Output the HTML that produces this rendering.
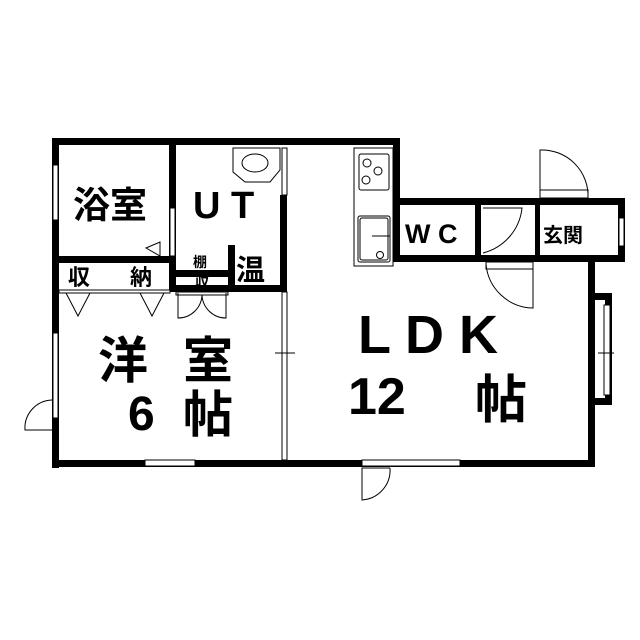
<!DOCTYPE html>
<html><head><meta charset="utf-8"><style>
html,body{margin:0;padding:0;background:#fff;}
svg{display:block;}
text{font-family:"Liberation Sans","Noto Sans CJK JP",sans-serif;fill:#000;font-weight:bold;}
</style></head><body>
<svg width="640" height="640" viewBox="0 0 640 640" xmlns="http://www.w3.org/2000/svg">
<g fill="#000">
<rect x="52" y="138" width="348" height="7"/>
<rect x="52" y="138" width="7" height="330"/>
<rect x="52" y="460" width="543" height="7"/>
<rect x="393" y="138" width="7" height="124"/>
<rect x="393" y="198" width="232" height="7"/>
<rect x="618" y="198" width="7" height="64"/>
<rect x="393" y="255" width="232" height="7"/>
<rect x="588" y="255" width="7" height="212"/>
<rect x="588" y="293" width="24" height="7"/>
<rect x="605" y="293" width="7" height="112"/>
<rect x="588" y="398" width="24" height="7"/>
<rect x="475" y="205" width="6" height="50"/>
<rect x="535" y="205" width="5" height="50"/>
<rect x="169" y="138" width="7" height="154"/>
<rect x="52" y="256" width="124" height="7"/>
<rect x="280" y="195" width="7" height="97"/>
<rect x="228" y="245" width="7" height="47"/>
<rect x="170" y="285" width="117" height="7"/>
<rect x="176" y="270" width="55" height="7"/>
</g>
<g fill="#fff" stroke="#000" stroke-width="1">
<rect x="53" y="165" width="5" height="55"/>
<rect x="53" y="333" width="5" height="85"/>
<rect x="145" y="460" width="50" height="6"/>
<rect x="362" y="460" width="98" height="6"/>
<rect x="604" y="305" width="6" height="90"/>
<rect x="619" y="218" width="5" height="28"/>
<rect x="170" y="208" width="5" height="48"/>
<rect x="282" y="148" width="5" height="47"/>
<rect x="282" y="292" width="5" height="168"/>
<rect x="354" y="148" width="39" height="118"/>
<rect x="359" y="154" width="30" height="36" rx="2"/>
<circle cx="367" cy="163" r="4"/><circle cx="378" cy="171" r="4"/><circle cx="366" cy="180" r="4"/>
<rect x="358" y="216" width="32" height="46" rx="2"/>
<rect x="360" y="218" width="28" height="42" rx="2"/>
<circle cx="380" cy="255" r="3.5"/>
<path d="M233 148 H280 V170 L270 182 H245 L233 172 Z"/>
<ellipse cx="255" cy="163" rx="13" ry="9"/>
<rect x="59" y="290" width="111" height="3"/>
<rect x="176" y="292" width="52" height="3"/>
</g>
<g fill="none" stroke="#000" stroke-width="1">
<line x1="372" y1="236" x2="390" y2="236"/>
<path d="M146 248 L160 242 V256 Z"/>
<path d="M66 293 L78 316 L90 293 M140 293 L152 316 L164 293"/>
<path d="M178 293 V318 A24 24 0 0 0 202 295 M226 293 V318 A24 24 0 0 1 202 295"/>
<path d="M52 400 A28 28 0 0 0 25 430 H52"/>
<path d="M390 468 H362 V500 A30 30 0 0 0 390 468"/>
<path d="M540 198 V150 A46 46 0 0 1 588 198"/>
<rect x="540" y="190" width="48" height="8"/>
<path d="M483 253 A52 52 0 0 0 522 208 H483"/>
<path d="M533 262 V308 A48 48 0 0 1 486 264"/>
<rect x="486" y="262" width="47" height="7"/>
<line x1="275" y1="353" x2="295" y2="353"/>
<line x1="598" y1="353" x2="614" y2="353"/>
</g>
<text x="73" y="218" font-size="37">浴室</text>
<text x="193" y="218" font-size="38" font-weight="normal">U T</text>
<text x="68" y="285" font-size="22">収</text>
<text x="130" y="285" font-size="22">納</text>
<text x="193" y="267" font-size="14" font-weight="normal">棚</text>
<text x="195" y="288" font-size="14" fill="#555" font-weight="normal">収</text>
<text x="236" y="280" font-size="29">温</text>
<text x="405" y="243" font-size="27">W C</text>
<text x="543" y="242" font-size="20">玄関</text>
<text x="358" y="353" font-size="54">L D K</text>
<text x="348" y="414" font-size="52">12</text>
<text x="475" y="418" font-size="52">帖</text>
<text x="98" y="378" font-size="50">洋</text>
<text x="183" y="378" font-size="50">室</text>
<text x="128" y="430" font-size="48">6</text>
<text x="183" y="432" font-size="50">帖</text>
</svg>
</body></html>
